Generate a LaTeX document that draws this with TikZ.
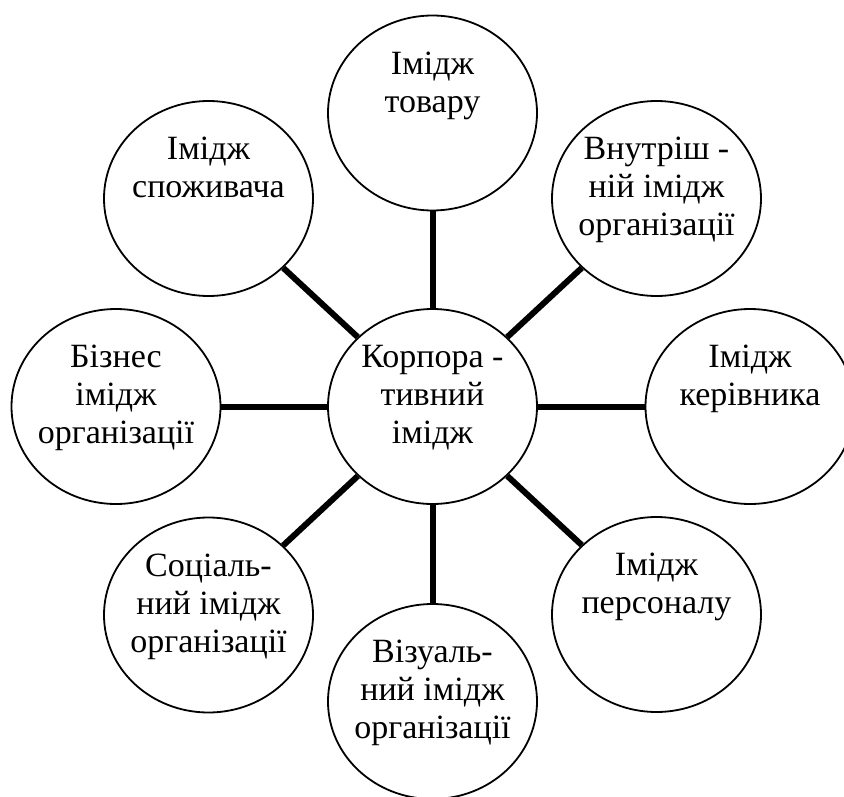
\documentclass[tikz,border=0pt]{standalone}
\usepackage{fontspec}
\setmainfont{Liberation Serif}
\usetikzlibrary{shapes.geometric}
\tikzset{
  bubble/.style={ellipse, draw=black, line width=1.8pt, fill=white, minimum width=209pt, minimum height=195pt, inner sep=0pt},
  bubbletext/.style={anchor=north, align=center, inner sep=0pt, font=\fontsize{34}{38}\selectfont},
  link/.style={line width=6pt, draw=black}
}
\begin{document}
\begin{tikzpicture}[x=1pt,y=-1pt]
\useasboundingbox (0,0) rectangle (844,797);
% ellipses
\node[bubble] (c)  at (432.5,406.5) {};
\node[bubble] (t)  at (432.5,113) {};
\node[bubble] (tl) at (208.5,198.5) {};
\node[bubble] (tr) at (656.5,198.5) {};
\node[bubble] (l)  at (116,406.5) {};
\node[bubble] (r)  at (750,406.5) {};
\node[bubble] (bl) at (208.5,615) {};
\node[bubble] (br) at (656.5,614.5) {};
\node[bubble] (b)  at (432.5,701.5) {};
% connectors
\foreach \n in {t,tl,tr,l,r,bl,br,b} \draw[link] (c) -- (\n);
% texts (first baseline 39.5 above centre)
\node[bubbletext] (ct)  at (432.5,345.0) {Корпора -\\тивний\\імідж};
\node[bubbletext] (tt)  at (432.5,51.5) {Імідж\\товару};
\node[bubbletext] (tlt) at (208.5,137.0) {Імідж\\споживача};
\node[bubbletext] (trt) at (656.5,137.0) {Внутріш -\\ній імідж\\організації};
\node[bubbletext] (lt)  at (116,345.0) {Бізнес\\імідж\\організації};
\node[bubbletext] (rt)  at (750,345.0) {Імідж\\керівника};
\node[bubbletext] (blt) at (208.5,553.5) {Соціаль-\\ний імідж\\організації};
\node[bubbletext] (brt) at (656.5,553.0) {Імідж\\персоналу};
\node[bubbletext] (bt)  at (432.5,640.0) {Візуаль-\\ний імідж\\організації};
\end{tikzpicture}
\end{document}
